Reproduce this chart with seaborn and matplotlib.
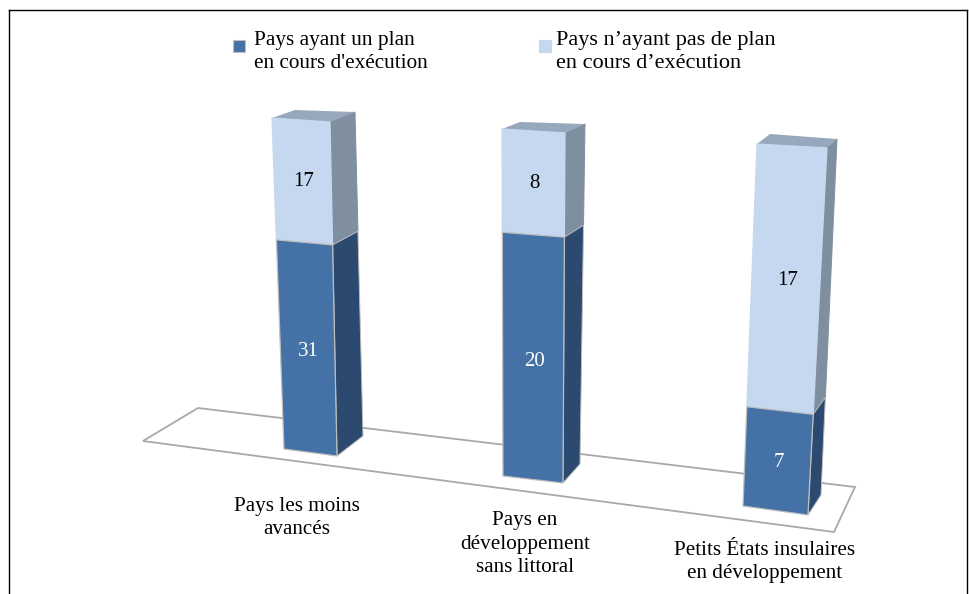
import numpy as np
import pandas as pd
import seaborn as sns
import matplotlib
matplotlib.use("Agg")
import matplotlib.pyplot as plt
from matplotlib.patches import Rectangle, Polygon
from matplotlib.transforms import Affine2D, Transform

# ---- data ----
categories = ["Pays les moins\navancés", "Pays en\ndéveloppement\nsans littoral",
              "Petits États insulaires\nen développement"]
with_plan = [31, 20, 7]
without_plan = [17, 8, 17]
legend_labels = ["Pays ayant un plan\nen cours d'exécution",
                 "Pays n’ayant pas de plan\nen cours d’exécution"]

# ---- style and projection geometry (pixels of the oblique 3-D view) ----
W, H = 969, 594
SERIF = "Liberation Serif"
FS = 15.2
C_DARK, C_DARK_SIDE = "#4471A6", "#2C4A6F"
C_LIGHT, C_LIGHT_SIDE = "#C6D8F0", "#7F8F9F"
C_TOP = "#98A8BC"
C_EDGE = "#BEBEBE"
GAMMA = 1.05   # foreshortening along the height
BAR_WIDTH = 0.8
# front: bottom-left, bottom-right, top-left, top-right; then back-bottom-right, back-top-right, back-top-left
GEOM = [
    dict(bl=(284, 449), br=(337, 456), tl=(272, 118), tr=(330, 122), bb=(363, 436), bt=(355, 112), tb=(295, 110)),
    dict(bl=(503, 476), br=(563, 483), tl=(502, 129), tr=(565, 133), bb=(580, 464), bt=(585, 124), tb=(520, 122)),
    dict(bl=(743, 506), br=(808, 515), tl=(757, 144), tr=(827, 148), bb=(821, 495), bt=(837, 139), tb=(770, 134)),
]
CAT_POS = [(297, 518), (525, 544), (765, 562)]


class FaceMap(Transform):
    """Maps (u, share) on a bar face to pixel positions of the oblique view."""
    input_dims = output_dims = 2
    is_separable = False
    has_inverse = False

    def __init__(self, bl, br, tl, tr, x0=0.0, dx=1.0):
        super().__init__()
        self.c = [np.array(p, float) for p in (bl, br, tl, tr)]
        self.x0, self.dx = x0, dx

    def transform_non_affine(self, values):
        v = np.asarray(values, float)
        u = ((v[:, 0] - self.x0) / self.dx)[:, None]
        t = (np.clip(v[:, 1], 0, None) ** GAMMA)[:, None]
        bl, br, tl, tr = self.c
        return (1 - t) * ((1 - u) * bl + u * br) + t * ((1 - u) * tl + u * tr)


df = pd.DataFrame({"cat": categories, "a": with_plan, "b": without_plan})
df["total"] = df["a"] + df["b"]
df["share_a"] = df["a"] / df["total"]
df["share_b"] = df["b"] / df["total"]

sns.set_theme(style="white")
plt.rcParams["font.family"] = [SERIF, "DejaVu Serif"]

fig = plt.figure(figsize=(W / 100, H / 100), dpi=100)
ax = fig.add_axes([9 / W, 0, (967 - 9) / W, 1 - 10 / H])
sns.barplot(data=df, x="cat", y="share_a", color=C_DARK, saturation=1, width=BAR_WIDTH, ax=ax)
sns.barplot(data=df, x="cat", y="share_b", bottom=df["share_a"].to_numpy(), color=C_LIGHT,
            saturation=1, width=BAR_WIDTH, ax=ax)
ax.set_xlabel("")
ax.set_ylabel("")
ax.set_xticks([])
ax.set_yticks([])
for s in ["left", "right", "top"]:
    ax.spines[s].set_color("black")
    ax.spines[s].set_linewidth(1.0)
ax.spines["bottom"].set_visible(False)

px = Affine2D().scale(1, -1).translate(0, H)   # image pixels -> display

# floor
ax.add_patch(Polygon([(143, 441), (198, 408), (855, 487), (834, 532)], closed=True, facecolor="white",
                     edgecolor="#A8A8A8", linewidth=1.3, transform=px, zorder=1, clip_on=False))

fronts = []
for i, g in enumerate(GEOM):
    fronts.append(FaceMap(g["bl"], g["br"], g["tl"], g["tr"], x0=i - BAR_WIDTH / 2, dx=BAR_WIDTH))

patches = [p for p in ax.patches if isinstance(p, Rectangle)]
for p in patches:
    i = int(round(p.get_x() + p.get_width() / 2))
    g = GEOM[i]
    is_dark = p.get_y() == 0
    p.set_transform(fronts[i] + px)
    p.set_clip_on(False)
    p.set_zorder(3 if not is_dark else 3.1)
    p.set_edgecolor(C_EDGE if is_dark else C_LIGHT)
    p.set_linewidth(0.9)
    side = FaceMap(g["br"], g["bb"], g["tr"], g["bt"])
    ax.add_patch(Rectangle((0, p.get_y()), 1, p.get_height(),
                           facecolor=C_DARK_SIDE if is_dark else C_LIGHT_SIDE,
                           edgecolor=C_EDGE if is_dark else C_LIGHT_SIDE, linewidth=0.7,
                           transform=side + px, zorder=2.5 if not is_dark else 2.55, clip_on=False))

for g in GEOM:
    ax.add_patch(Polygon([g["tl"], g["tr"], g["bt"], g["tb"]], closed=True, facecolor=C_TOP,
                         edgecolor="none", transform=px, zorder=2.6, clip_on=False))

# value labels, located through the same projection
for i, row in df.iterrows():
    fm = fronts[i]
    u = i - BAR_WIDTH / 2 + 0.52 * BAR_WIDTH
    pa = fm.transform_non_affine(np.array([[u, row["share_a"] / 2]]))[0]
    pb = fm.transform_non_affine(np.array([[u, row["share_a"] + row["share_b"] / 2]]))[0]
    ax.text(pa[0], pa[1], str(row["a"]), color="white", fontsize=15, ha="center", va="center",
            transform=px, zorder=5, family=SERIF)
    ax.text(pb[0], pb[1], str(row["b"]), color="black", fontsize=15, ha="center", va="center",
            transform=px, zorder=5, family=SERIF)

# category labels
for (x, y), lab in zip(CAT_POS, categories):
    ax.text(x, y, lab, color="black", fontsize=FS, ha="center", va="center", linespacing=1.33,
            transform=px, zorder=5, family=SERIF, clip_on=False)

# legend
for (sx, tx), col, lab, fs in zip([(233, 254), (539, 556)], [C_DARK, C_LIGHT], legend_labels, [15.3, 16.0]):
    ax.add_patch(Rectangle((sx, 40), 12, 12, facecolor=col, edgecolor=C_EDGE if col == C_DARK else col,
                           linewidth=0.8, transform=px, zorder=5, clip_on=False))
    ax.text(tx, 52, lab, color="black", fontsize=fs, ha="left", va="center", linespacing=1.23,
            transform=px, zorder=5, family=SERIF)

ax.set_xlim(-0.5, 2.5)
ax.set_ylim(0, 1.5)
fig.savefig("out.png", dpi=100)
